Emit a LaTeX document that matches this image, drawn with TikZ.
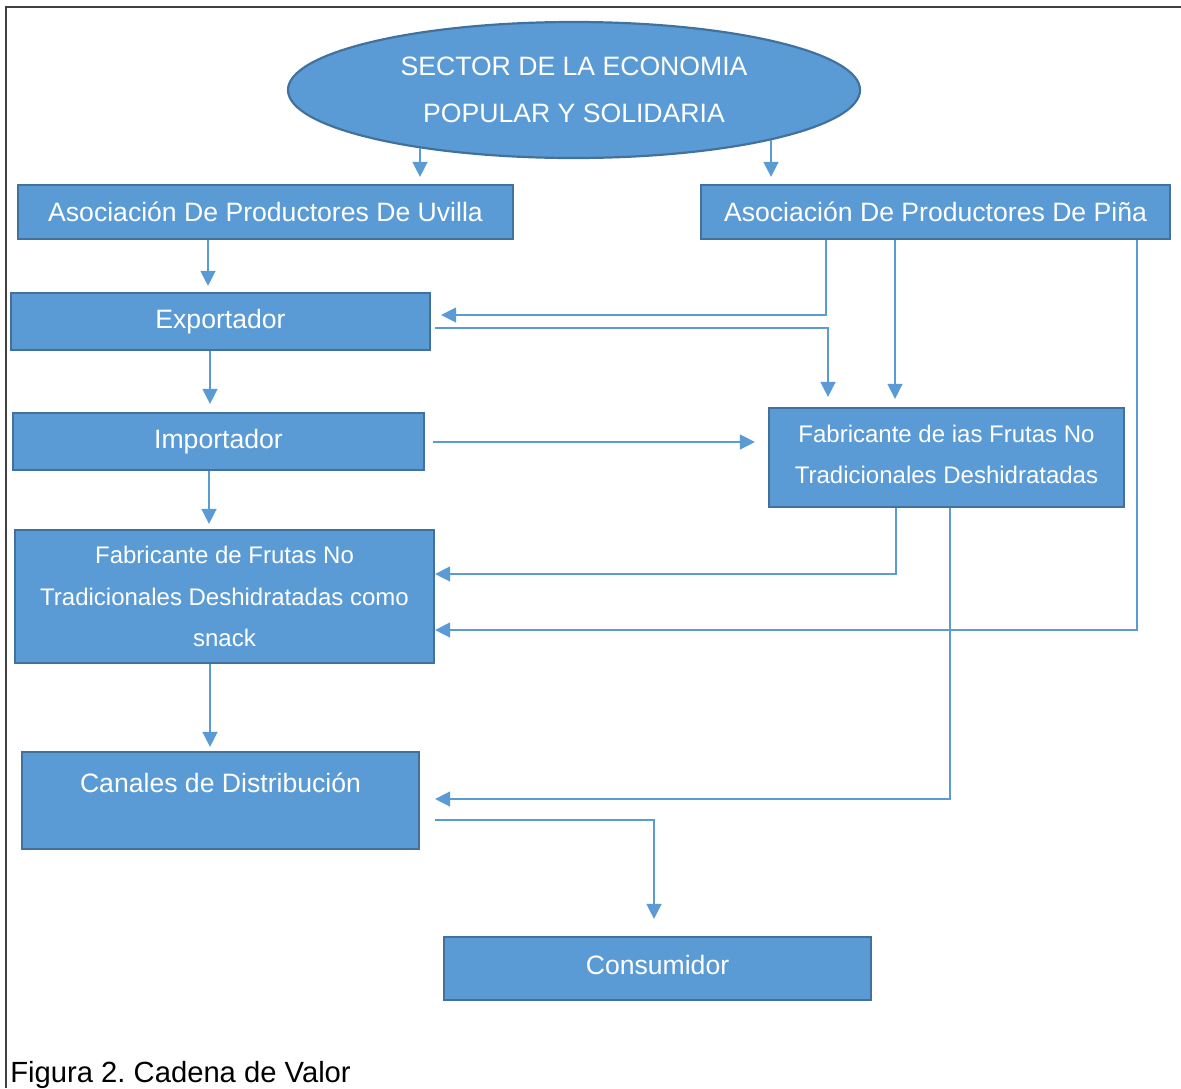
\documentclass[tikz,border=0pt]{standalone}
\usepackage{fontspec}
\setmainfont{Liberation Sans}
\usetikzlibrary{arrows.meta,shapes.geometric}
\definecolor{boxfill}{HTML}{5B9BD5}
\definecolor{boxline}{HTML}{41719C}
\definecolor{conn}{HTML}{5B9BD5}
\definecolor{framec}{HTML}{404040}
\tikzset{
  box/.style={rectangle, draw=boxline, fill=boxfill, line width=1.1pt, text=white, inner sep=0pt,
    font=\fontsize{13.3}{23.5}\selectfont, align=center},
  smallbox/.style={box, font=\fontsize{12}{20.7}\selectfont},
  ellbox/.style={ellipse, draw=boxline, fill=boxfill, line width=1.1pt, text=white, inner sep=0pt,
    font=\fontsize{13.3}{23.5}\selectfont, align=center},
  arr/.style={draw=conn, line width=0.7pt, -{Triangle[length=7.5pt,width=7.5pt]}},
  lbl/.style={text=white, inner sep=0pt, align=center}
}
\begin{document}
\frenchspacing
\begin{tikzpicture}[x=0.5pt,y=-0.5pt]
\useasboundingbox (0,0) rectangle (1181,1088);
\draw[framec, line width=1pt] (6,1088) -- (6,7) -- (1181,7);

\node[ellbox, minimum width=286pt, minimum height=68pt] (ell) at (574,90)
  {SECTOR DE LA ECONOMIA\\POPULAR Y SOLIDARIA};
\node[box, minimum width=247.5pt, minimum height=27pt] (uvilla) at (265.5,212) {Asociación De Productores De Uvilla};
\node[box, minimum width=234.5pt, minimum height=27pt] (pina) at (935.5,212) {Asociación De Productores De Piña};
\node[box, minimum width=209.5pt, minimum height=28.5pt] (export) at (220.5,321.5) {Exportador};
\node[box, minimum width=205.5pt, minimum height=28.5pt] (import) at (218.5,441.5) {Importador};
\node[box, minimum width=177.5pt, minimum height=49.5pt] (fabR) at (946.5,457.5) {};
\node[lbl, font=\fontsize{12}{20.7}\selectfont] (fabRtxt) at (946.5,454.5)
  {Fabricante de ias Frutas No\\Tradicionales Deshidratadas};
\node[smallbox, minimum width=209.5pt, minimum height=66.5pt] (fabL) at (224.5,596.5)
  {Fabricante de Frutas No\\Tradicionales Deshidratadas como\\snack};
\node[box, minimum width=198.5pt, minimum height=48.5pt] (canales) at (220.5,800.5) {};
\node[lbl, font=\fontsize{13.3}{23.5}\selectfont] (canalestxt) at (220.5,783) {Canales de Distribución};
\node[box, minimum width=213.5pt, minimum height=31.5pt] (consumidor) at (657.5,968.5) {};
\node[lbl, font=\fontsize{13.3}{23.5}\selectfont] (consumidortxt) at (657.5,965) {Consumidor};

\node[anchor=base west, inner sep=0pt, text=black, font=\fontsize{14.6}{17}\selectfont] (caption) at (10,1082) {Figura 2. Cadena de Valor};

% connectors
\draw[arr, shorten >=3.5pt] (ell.200.3 -| 420,0) -- (420,0 |- uvilla.north);
\draw[arr, shorten >=3.5pt] (ell.-14 -| 771,0) -- (771,0 |- pina.north);
\draw[arr, shorten >=3pt] (208,0 |- uvilla.south) -- (208,0 |- export.north);
\draw[arr, shorten >=4pt] (210,0 |- export.south) -- (210,0 |- import.north);
\draw[arr, shorten >=2.5pt] (209,0 |- import.south) -- (209,0 |- fabL.north);
\draw[arr, shorten >=2pt] (210,0 |- fabL.south) -- (210,0 |- canales.north);

\draw[arr, shorten >=5pt] (826,0 |- pina.south) |- (export.east |- 0,315);
\draw[arr, shorten <=2pt, shorten >=5pt] (export.east |- 0,328) -| (828,0 |- fabR.north);
\draw[arr, shorten >=4pt] (895,0 |- pina.south) -- (895,0 |- fabR.north);
\draw[arr, shorten <=4pt, shorten >=6.5pt] (import.east |- 0,442) -- (fabR.west |- 0,442);
\draw[arr] (896,0 |- fabR.south) |- (fabL.east |- 0,574);
\draw[arr] (1137,0 |- pina.south) |- (fabL.east |- 0,630);
\draw[arr, shorten >=7.5pt] (950,0 |- fabR.south) |- (canales.east |- 0,799);
\draw[arr, shorten <=7.5pt, shorten >=8.5pt] (canales.east |- 0,820) -| (654,0 |- consumidor.north);
\end{tikzpicture}
\end{document}
